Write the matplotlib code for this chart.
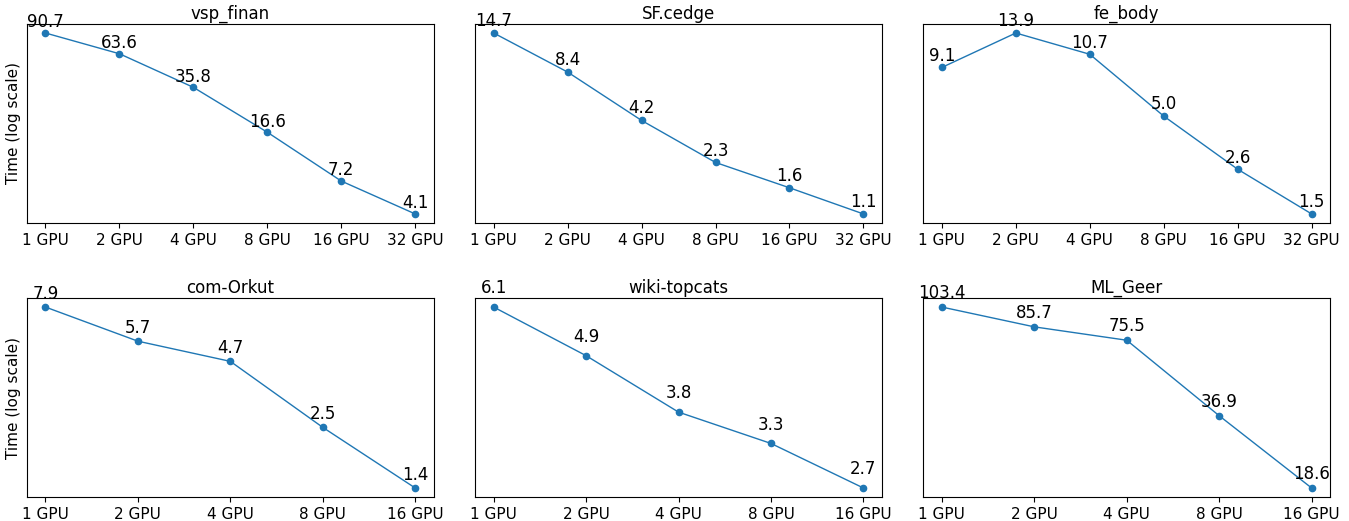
import matplotlib.pyplot as plt

titles = ['vsp_finan', 'SF.cedge', 'fe_body', 'com-Orkut', 'wiki-topcats', 'ML_Geer']
gpus_top = ['1 GPU', '2 GPU', '4 GPU', '8 GPU', '16 GPU', '32 GPU']
gpus_bottom = ['1 GPU', '2 GPU', '4 GPU', '8 GPU', '16 GPU']

vsp_finan = [90.7, 63.6, 35.8, 16.6, 7.2, 4.1]
sf_cedge = [14.7, 8.4, 4.2, 2.3, 1.6, 1.1]
fe_body = [9.1, 13.9, 10.7, 5.0, 2.6, 1.5]
com_orkut = [7.9, 5.7, 4.7, 2.5, 1.4]
wiki_topcats = [6.1, 4.9, 3.8, 3.3, 2.7]
ml_geer = [103.4, 85.7, 75.5, 36.9, 18.6]

series = [vsp_finan, sf_cedge, fe_body, com_orkut, wiki_topcats, ml_geer]
labels = [gpus_top] * 3 + [gpus_bottom] * 3
# label offsets above the points (points), per panel
label_offsets = [4.1, 5.0, 4.8, 5.8, 10.0, 6.5]

fig, axes = plt.subplots(2, 3, figsize=(13.49, 5.21), dpi=100)
fig.subplots_adjust(left=0.020, right=0.986, top=0.954, bottom=0.046, wspace=0.102, hspace=0.377)

for idx, ax in enumerate(axes.flat):
    vals = series[idx]
    xs = list(range(len(vals)))
    ax.plot(xs, vals, marker='o', markersize=4.5, linewidth=1, color='#1f77b4')
    ax.set_yscale('log')
    ax.set_xticks(xs)
    ax.set_xticklabels(labels[idx], fontsize=11)
    ax.set_yticks([])
    ax.yaxis.set_minor_locator(plt.NullLocator())
    ax.set_title(titles[idx], fontsize=12, pad=3.5)
    for x, v in zip(xs, vals):
        ax.annotate(f"{v:.1f}", xy=(x, v), xytext=(0, label_offsets[idx]), textcoords='offset points',
                    ha='center', fontsize=12)
    if idx % 3 == 0:
        ax.set_ylabel('Time (log scale)', fontsize=11)

plt.savefig('out.png')
